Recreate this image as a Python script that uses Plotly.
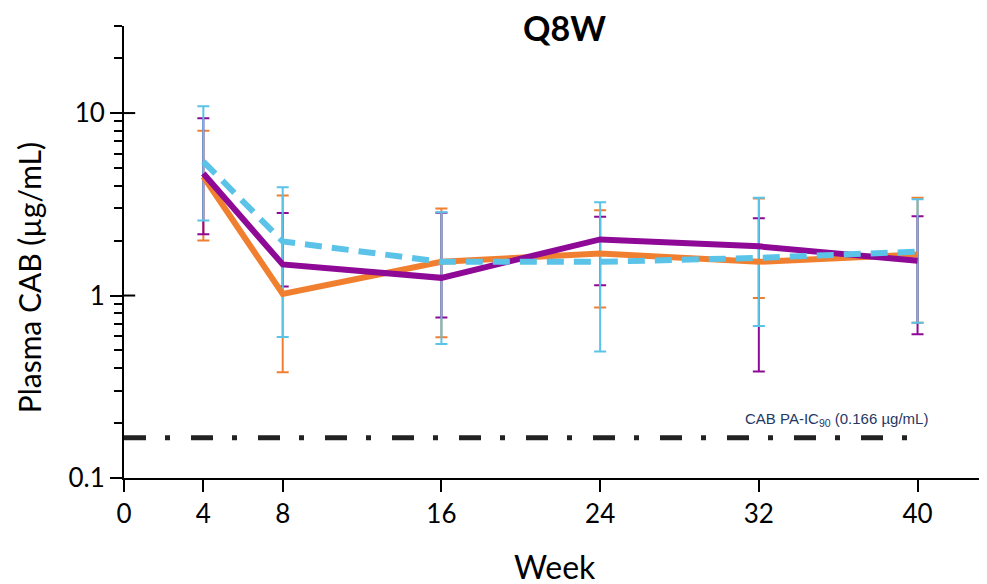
import plotly.graph_objects as go

weeks = [4, 8, 16, 24, 32, 40]
tick_weeks = [0, 4, 8, 16, 24, 32, 40]

orange_mean = [4.49, 1.02, 1.53, 1.70, 1.53, 1.68]
orange_hi = [8.0, 3.53, 3.0, 2.93, 3.40, 3.43]
orange_lo = [2.0, 0.38, 0.59, 0.86, 0.97, 0.71]

purple_mean = [4.66, 1.48, 1.25, 2.03, 1.86, 1.55]
purple_hi = [9.36, 2.83, 2.84, 2.70, 2.65, 2.72]
purple_lo = [2.17, 1.12, 0.757, 1.14, 0.383, 0.614]

blue_mean = [5.42, 1.98, 1.53, 1.53, 1.61, 1.74]
blue_hi = [10.9, 3.92, 2.86, 3.24, 3.43, 3.37]
blue_lo = [2.58, 0.593, 0.543, 0.493, 0.68, 0.71]

ic90_x = [0, 39.5]
ic90_y = [0.166, 0.166]

ORANGE = "#F08030"
PURPLE = "#8E0A96"
BLUE = "#5BC3E8"

fig = go.Figure()

def err_trace(mean, hi, lo, color):
    return go.Scatter(
        x=weeks, y=mean, mode="markers", marker=dict(size=0.1, color=color, opacity=0),
        error_y=dict(type="data", symmetric=False,
                     array=[h - m for h, m in zip(hi, mean)],
                     arrayminus=[m - l for m, l in zip(mean, lo)],
                     color=color, thickness=2, width=6),
        showlegend=False, hoverinfo="skip")

fig.add_trace(err_trace(orange_mean, orange_hi, orange_lo, ORANGE))
fig.add_trace(err_trace(purple_mean, purple_hi, purple_lo, PURPLE))
fig.add_trace(err_trace(blue_mean, blue_hi, blue_lo, BLUE))

fig.add_trace(go.Scatter(x=ic90_x, y=ic90_y, mode="lines",
                         line=dict(color="#222222", width=5, dash="22px,19px,5px,21px"),
                         showlegend=False))

fig.add_trace(go.Scatter(x=weeks, y=orange_mean, mode="lines",
                         line=dict(color=ORANGE, width=6), showlegend=False))
fig.add_trace(go.Scatter(x=weeks, y=purple_mean, mode="lines",
                         line=dict(color=PURPLE, width=6), showlegend=False))
fig.add_trace(go.Scatter(x=weeks, y=blue_mean, mode="lines",
                         line=dict(color=BLUE, width=6, dash="17px,10px"), showlegend=False))

FONT = "Lato"
minor_vals = [0.2, 0.3, 0.4, 0.5, 0.6, 0.7, 0.8, 0.9, 2, 3, 4, 5, 6, 7, 8, 9, 20, 30]

fig.update_layout(
    width=979, height=576,
    margin=dict(l=116, r=2, t=18, b=106),
    paper_bgcolor="white", plot_bgcolor="white",
    font=dict(family=FONT, color="black"),
    xaxis=dict(range=[0, 43.4], tickvals=tick_weeks, ticktext=[str(w) for w in tick_weeks],
               showline=True, linecolor="black", linewidth=2, ticks="outside", ticklen=12,
               tickwidth=2, tickcolor="black", showgrid=False, zeroline=False,
               automargin=False, tickfont=dict(size=26, family=FONT)),
    yaxis=dict(type="log", range=[-1, 1.4771], tickvals=[0.1, 1, 10], ticktext=["0.1", "1", "10"],
               showline=True, linecolor="black", linewidth=2, ticks="outside", ticklen=12,
               tickwidth=2, tickcolor="black", showgrid=False, zeroline=False,
               automargin=False,
               minor=dict(tickvals=minor_vals, ticks="outside", ticklen=8, tickwidth=2,
                          tickcolor="black", showgrid=False),
               tickfont=dict(size=26, family=FONT)),
)

# inside parts of major y ticks (crossing ticks)
for v in [1, 10]:
    fig.add_shape(type="line", xref="paper", yref="y", x0=0, x1=0.013, y0=v, y1=v,
                  line=dict(color="black", width=2))

fig.add_annotation(text="<b>Q8W</b>", xref="paper", yref="paper", x=0.512, y=0.9956,
                   yanchor="middle", showarrow=False,
                   font=dict(size=34, family=FONT, color="black"))

fig.add_annotation(text="Week", xref="paper", yref="paper", x=0.5, y=-0.195,
                   yanchor="middle", showarrow=False,
                   font=dict(size=32, family=FONT, color="black"))

fig.add_annotation(text="Plasma CAB (µg/mL)", xref="paper", yref="paper", x=-0.11, y=0.4425,
                   xanchor="center", yanchor="middle", textangle=-90, showarrow=False,
                   font=dict(size=30, family=FONT, color="black"))

fig.add_annotation(text="CAB PA-IC<sub>90</sub> (0.166 µg/mL)", xref="x", yref="y",
                   x=40.65, y=-0.678, xanchor="right", yanchor="middle", showarrow=False,
                   font=dict(size=15, family="Liberation Sans", color="#1F3864"))

fig.write_html("out.html")
